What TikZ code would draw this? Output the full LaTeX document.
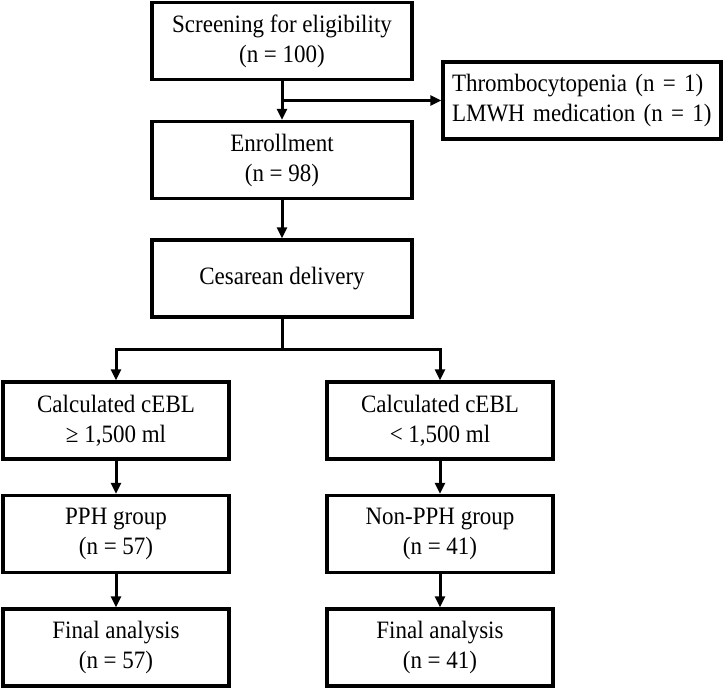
\documentclass[tikz,border=0pt]{standalone}
\usepackage{fontspec}
\setmainfont{Liberation Serif}[FakeStretch=0.92]
\usetikzlibrary{arrows.meta}
\begin{document}
\begin{tikzpicture}[x=1pt,y=-1pt,
  box/.style={draw=black,line width=3.3pt,minimum height=77pt,align=center,inner sep=0pt,
    font=\fontsize{25}{30}\selectfont},
  cbox/.style={box,minimum width=260pt},
  sbox/.style={box,minimum width=226pt},
  ebox/.style={box,minimum width=278pt,align=left,text width=260pt},
  conn/.style={line width=3pt},
  arr/.style={conn,-{Triangle[length=11pt,width=10pt]}}]
\useasboundingbox (0,0) rectangle (724,690);
\node[cbox] (screen) at (282,41) {Screening for eligibility\\(n = 100)};
\node[ebox] (excl) at (582,100.5) {Thrombocytopenia (n = 1)\\LMWH medication (n = 1)};
\node[cbox] (enroll) at (282,160) {Enrollment\\(n = 98)};
\node[cbox] (cesar) at (282,278.5) {Cesarean delivery};
\node[sbox] (c1) at (116,420.5) {Calculated cEBL\\≥ 1,500 ml};
\node[sbox] (c2) at (440,420.5) {Calculated cEBL\\< 1,500 ml};
\node[sbox] (g1) at (116,534) {PPH group\\(n = 57)};
\node[sbox] (g2) at (440,534) {Non-PPH group\\(n = 41)};
\node[sbox] (f1) at (116,647.5) {Final analysis\\(n = 57)};
\node[sbox] (f2) at (440,647.5) {Final analysis\\(n = 41)};
\coordinate (split) at (282,349);
\draw[arr] (screen.south) -- (enroll.north);
\draw[arr] (screen.south |- excl.west) -- (excl.west);
\draw[arr] (enroll.south) -- (cesar.north);
\draw[conn] (cesar.south) -- (split);
\draw[arr] (split) -| (c1.north);
\draw[arr] (split) -| (c2.north);
\draw[arr] (c1.south) -- (g1.north);
\draw[arr] (c2.south) -- (g2.north);
\draw[arr] (g1.south) -- (f1.north);
\draw[arr] (g2.south) -- (f2.north);
\end{tikzpicture}
\end{document}
